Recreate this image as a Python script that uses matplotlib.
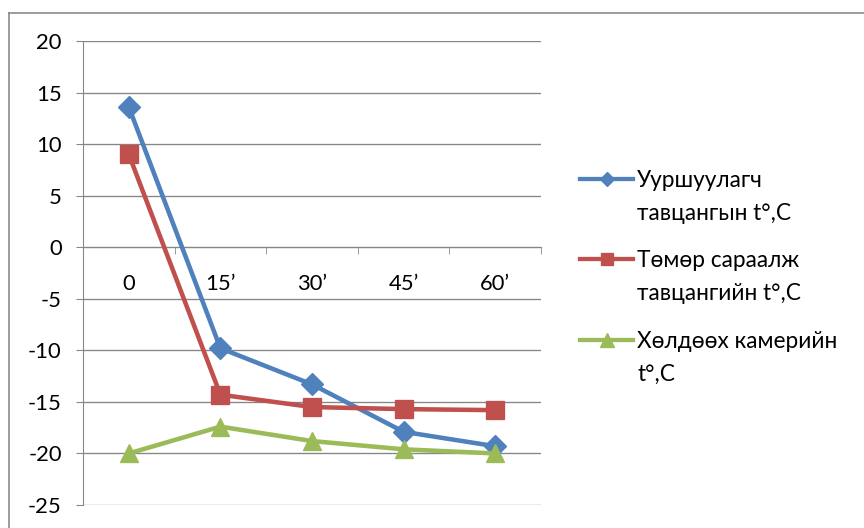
import matplotlib
matplotlib.use("Agg")
import matplotlib.pyplot as plt
from matplotlib.lines import Line2D
from matplotlib.ticker import FixedLocator

plt.rcParams['font.family'] = ['Lato', 'Open Sans', 'DejaVu Sans']
plt.rcParams['axes.unicode_minus'] = False

categories = ["0", "15\u2019", "30\u2019", "45\u2019", "60\u2019"]
evaporator = [13.6, -9.8, -13.3, -17.9, -19.3]
iron_grate = [9.0, -14.3, -15.5, -15.7, -15.8]
freezer = [-20.0, -17.4, -18.8, -19.6, -20.0]
series_names = [
    "Ууршуулагч\nтавцангын t°,C",
    "Төмөр сараалж\nтавцангийн t°,C",
    "Хөлдөөх камерийн\nt°,C",
]
y_ticks = [20, 15, 10, 5, 0, -5, -10, -15, -20, -25]

W, H = 864, 528
fig = plt.figure(figsize=(W / 96, H / 96), dpi=96)
ax = fig.add_axes([83 / W, 23 / H, 458 / W, 464 / H])

x = list(range(len(categories)))
styles = [
    (evaporator, "#4F81BD", "D", 11.5, 7.5),
    (iron_grate, "#C0504D", "s", 13, 9),
    (freezer, "#9BBB59", "^", 14, 10),
]
for (vals, color, marker, ms, _), name in zip(styles, series_names):
    ax.plot(x, vals, color=color, lw=3.4, marker=marker, ms=ms,
            label=name, zorder=3)

ax.set_xlim(-0.5, len(categories) - 0.5)
ax.set_ylim(-25, 20)
ax.set_yticks(y_ticks)
ax.yaxis.grid(True, color="#868686", lw=1)
ax.set_axisbelow(True)

for s in ["top", "right"]:
    ax.spines[s].set_visible(False)
ax.spines["left"].set_color("#868686")
ax.spines["bottom"].set_color("#868686")
ax.spines["bottom"].set_position(("data", 0))

ax.set_xticks(x)
ax.set_xticklabels(categories)
ax.xaxis.set_minor_locator(FixedLocator([i - 0.5 for i in range(len(categories) + 1)]))
ax.tick_params(axis="x", which="major", length=0, pad=20, labelsize=16.5)
ax.tick_params(axis="x", which="minor", length=5, direction="out", color="#868686")
ax.tick_params(axis="y", length=5, direction="out", color="#868686", labelsize=16.5, pad=11)

# legend drawn by hand: handle aligned with the first text line
legend_rows = [179, 259, 340]
line_gap = 33
for (vals, color, marker, ms, lms), name, yrow in zip(styles, series_names, legend_rows):
    yf = 1 - yrow / H
    fig.add_artist(Line2D([580 / W, 633 / W], [yf, yf], transform=fig.transFigure,
                          color=color, lw=3.2))
    fig.add_artist(Line2D([606.5 / W], [yf], transform=fig.transFigure,
                          color=color, marker=marker, ms=lms, lw=0))
    for k, part in enumerate(name.split("\n")):
        fig.text(637 / W, 1 - (yrow + 8 + k * line_gap) / H, part, fontsize=17,
                 va="baseline", ha="left")

fig.add_artist(Line2D([9 / W, 1], [1 - 13 / H, 1 - 13 / H],
                      transform=fig.transFigure, color="#868686", lw=1.2))
fig.add_artist(Line2D([9 / W, 9 / W], [0, 1 - 13 / H],
                      transform=fig.transFigure, color="#868686", lw=1.2))

fig.savefig("out.png", dpi=96, facecolor="white")
